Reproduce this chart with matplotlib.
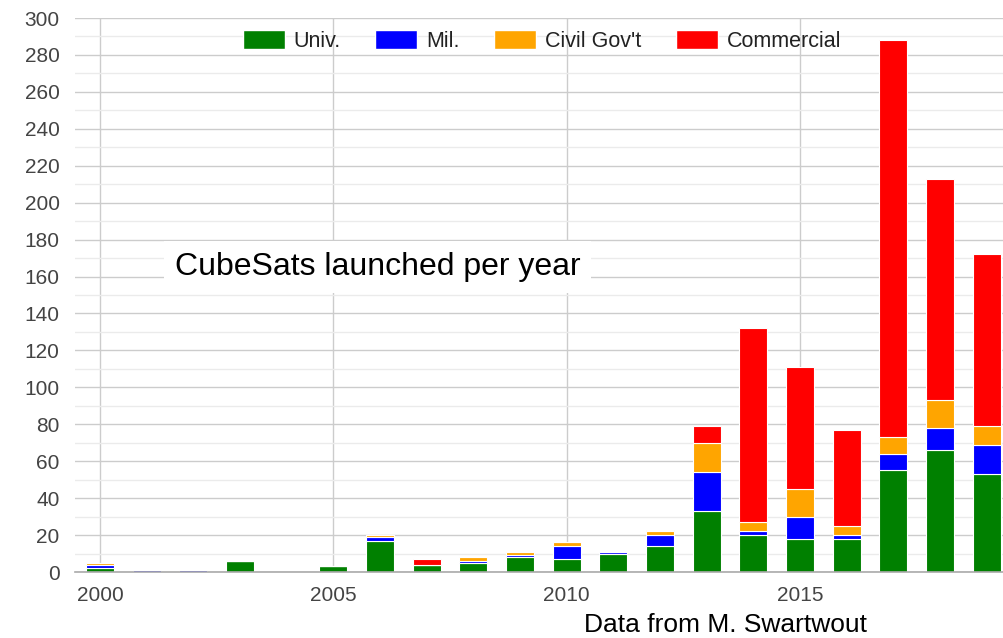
import matplotlib
matplotlib.use("Agg")
import matplotlib.pyplot as plt
from matplotlib.patches import Patch
from matplotlib.ticker import MultipleLocator

plt.rcParams['font.family'] = ['Liberation Sans', 'DejaVu Sans']

years = list(range(2000, 2020))
univ       = [2, 0, 0, 6, 0, 3, 17, 4, 5, 8, 7, 10, 14, 33, 20, 18, 18, 55, 66, 53]
mil        = [2, 1, 1, 0, 0, 0, 2, 0, 1, 1, 7, 1, 6, 21, 2, 12, 2, 9, 12, 16]
civil      = [1, 0, 0, 0, 0, 0, 1, 0, 2, 2, 2, 0, 2, 16, 5, 15, 5, 9, 15, 10]
commercial = [0, 0, 0, 0, 0, 0, 0, 3, 0, 0, 0, 0, 1, 9, 105, 66, 52, 215, 120, 93]

series_names = ["Univ.", "Mil.", "Civil Gov't", "Commercial"]
series = [univ, mil, civil, commercial]
colors = ["#008000", "#0000ff", "#ffa500", "#ff0000"]

W, H = 1004, 638
fig = plt.figure(figsize=(W / 100, H / 100), dpi=100)
ax = fig.add_axes([75 / W, (H - 572) / H, (W - 75) / W, (572 - 18) / H])

bottom = [0] * len(years)
for vals, col in zip(series, colors):
    ax.bar(years, vals, width=0.6, bottom=bottom, color=col,
           edgecolor='white', linewidth=0.8, zorder=3)
    bottom = [b + v for b, v in zip(bottom, vals)]

ax.set_xlim(1999.464, 2019.37)
ax.set_ylim(0, 300)
ax.yaxis.set_major_locator(MultipleLocator(20))
ax.yaxis.set_minor_locator(MultipleLocator(10))
ax.set_xticks([2000, 2005, 2010, 2015])
ax.grid(which='major', axis='y', color='#cccccc', linewidth=1, zorder=0)
ax.grid(which='minor', axis='y', color='#ebebeb', linewidth=1, zorder=0)
ax.grid(which='major', axis='x', color='#cccccc', linewidth=1, zorder=0)
for s in ['top', 'right', 'left']:
    ax.spines[s].set_visible(False)
ax.spines['bottom'].set_color('#aaaaaa')
ax.spines['bottom'].set_linewidth(1.2)
ax.spines['bottom'].set_zorder(4)
ax.tick_params(axis='both', which='both', length=0, labelsize=15, colors='#444444')
ax.tick_params(axis='y', pad=11)
ax.tick_params(axis='x', pad=10)

ax.text(2001.6, 165, "CubeSats launched per year", fontsize=23, color='black',
        ha='left', va='center', zorder=5,
        bbox=dict(facecolor='white', edgecolor='none', boxstyle='square,pad=0.35'))

fig.text(726 / W, 1 - 625 / H, "Data from M. Swartwout", fontsize=19,
         color='black', ha='center', va='center')

handles = [Patch(facecolor=c, edgecolor='white', label=n) for c, n in zip(colors, series_names)]
fig.legend(handles=handles, loc='center', bbox_to_anchor=(542 / W, 1 - 41 / H),
           ncol=4, frameon=False, fontsize=15.5, handlelength=1.95, handleheight=0.98,
           handletextpad=0.42, columnspacing=1.6, labelcolor='#222222')

fig.savefig("out.png", dpi=100, facecolor='white')
